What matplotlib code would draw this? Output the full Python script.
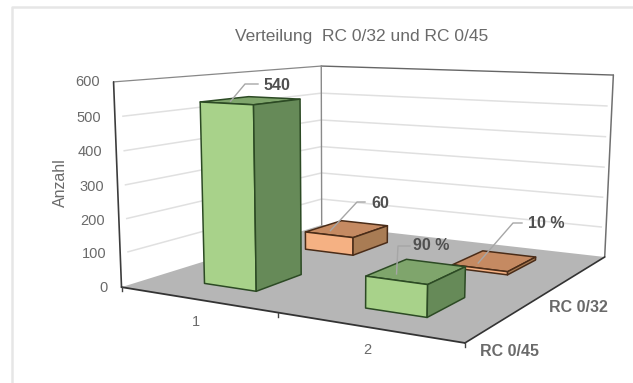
import numpy as np
import matplotlib
matplotlib.use("Agg")
import matplotlib.pyplot as plt
from matplotlib.patches import Polygon

plt.rcParams["font.family"] = ["Liberation Sans", "DejaVu Sans"]

# Chart content
title = "Verteilung  RC 0/32 und RC 0/45"
y_label = "Anzahl"
categories = ["1", "2"]
series_names = ["RC 0/45", "RC 0/32"]
values_rc045 = [540, 90]
values_rc032 = [60, 10]
labels_rc045 = ["540", "90 %"]
labels_rc032 = ["60", "10 %"]
y_ticks = [0, 100, 200, 300, 400, 500, 600]

# Colours per series: front, side, top, edge
green = ("#a8d28a", "#668a58", "#7fa56c", "#2c4a24")
orange = ("#f5b183", "#a97c54", "#c58a62", "#4a2c18")
TEXT = "#6a6a6a"
LABEL = "#505050"

# Perspective camera: (category, series depth, count) -> canvas position
world_ref = np.array([(0, 0, 0), (2, 0, 0), (2, 2, 0), (0, 2, 0),
                      (0, 0, 600), (0, 2, 600), (2, 2, 600)], float)
canvas_ref = np.array([(122, 287), (465, 343), (605, 257), (321, 225),
                       (113, 82), (322, 66), (613, 75)], float)
rows = []
for (X, Y, Z), (u, v) in zip(world_ref, canvas_ref):
    rows.append([X, Y, Z, 1, 0, 0, 0, 0, -u * X, -u * Y, -u * Z, -u])
    rows.append([0, 0, 0, 0, X, Y, Z, 1, -v * X, -v * Y, -v * Z, -v])
camera = np.linalg.svd(np.array(rows))[2][-1].reshape(3, 4)


def project(x, y, z):
    q = camera @ np.array([x, y, z, 1.0])
    return q[0] / q[2], q[1] / q[2]


fig = plt.figure(figsize=(6.33, 3.83), dpi=100)
ax = fig.add_axes([0, 0, 1, 1])
ax.set_xlim(0, 633)
ax.set_ylim(383, 0)
ax.axis("off")

# Outer chart frame
ax.plot([12, 12, 633], [383, 7, 7], color="#e6e6e6", lw=1.8, zorder=1)

# Walls and floor
left_wall = [project(0, 0, 0), project(0, 2, 0), project(0, 2, 600), project(0, 0, 600)]
back_wall = [project(0, 2, 0), project(2, 2, 0), project(2, 2, 600), project(0, 2, 600)]
floor = [project(0, 0, 0), project(2, 0, 0), project(2, 2, 0), project(0, 2, 0)]
ax.add_patch(Polygon(left_wall, fc="white", ec="none", zorder=2))
ax.add_patch(Polygon(back_wall, fc="white", ec="none", zorder=2))

# Gridlines on both walls
for tick in y_ticks[1:-1]:
    pts = [project(0, 0.06, tick), project(0, 2, tick), project(1.97, 2, tick)]
    ax.plot(*zip(*pts), color="#e0e0e0", lw=1.1, zorder=3)

ax.add_patch(Polygon(floor, fc="#b6b6b6", ec="none", zorder=4))


def line(points, color, lw, z=5):
    ax.plot(*zip(*[project(*p) for p in points]), color=color, lw=lw,
            zorder=z, solid_capstyle="round", solid_joinstyle="round")


# Wall outlines and axis lines
line([(0, 2, 600), (2, 2, 600)], "#666666", 1.0)
line([(0, 0, 600), (0, 2, 600)], "#888888", 0.9)
line([(0, 0, 0), (0, 0, 600)], "#3c3c3c", 1.2)
line([(0, 2, 0), (0, 2, 600)], "#8a8a8a", 1.0)
line([(2, 2, 0), (2, 2, 600)], "#707070", 1.1)
line([(0, 0, 0), (2, 0, 0)], "#333333", 1.3)
line([(2, 0, 0), (2, 2, 0)], "#333333", 1.2)

# Category ticks along the front edge
for x in range(3):
    u, v = project(x, 0, 0)
    ax.plot([u, u], [v, v + 4], color="#444444", lw=1.0, zorder=5)

# Bar footprint in data units
half_w = 0.17
half_d = 0.215


def draw_bar(cx, cy, value, colors, z):
    front, side, top, edge = colors
    x0, x1, y0, y1 = cx - half_w, cx + half_w, cy - half_d, cy + half_d
    faces = [
        ([(x0, y1, value), (x1, y1, value), (x1, y0, value), (x0, y0, value)], top),
        ([(x0, y0, 0), (x1, y0, 0), (x1, y0, value), (x0, y0, value)], front),
        ([(x1, y0, 0), (x1, y1, 0), (x1, y1, value), (x1, y0, value)], side),
    ]
    for corners, color in faces:
        ax.add_patch(Polygon([project(*c) for c in corners], closed=True, fc=color,
                             ec=edge, lw=1.1, joinstyle="round", zorder=z))


# Bars, furthest row first so nearer ones overlap it
for i, value in enumerate(values_rc032):
    draw_bar(i + 0.5, 1.5, value, orange, 6 + i)
for i, value in enumerate(values_rc045):
    draw_bar(i + 0.5, 0.5, value, green, 8 + i)


def leader(cx, cy, value, knee, end, text, text_xy):
    # Callout starts slightly towards the front-left of the bar's top face
    start = project(cx - 0.06, cy - 0.1, value)
    ax.plot([start[0], knee[0], end[0]], [start[1], knee[1], end[1]],
            color="#a6a6a6", lw=1.0, zorder=11)
    ax.text(*text_xy, text, fontsize=11.5, fontweight="bold", color=LABEL,
            ha="center", va="center", zorder=12)


leader(0.5, 0.5, values_rc045[0], (245, 84), (258, 84), labels_rc045[0], (277, 85))
leader(0.5, 1.5, values_rc032[0], (357, 202), (365, 202), labels_rc032[0], (380, 203))
leader(1.5, 0.5, values_rc045[1], (398, 246), (410, 246), labels_rc045[1], (431, 245))
leader(1.5, 1.5, values_rc032[1], (513, 223), (522, 223), labels_rc032[1], (546, 224))

# Count axis tick labels
for tick in y_ticks:
    u, v = project(0, 0, tick)
    ax.text(u - 14, v + 0.5, str(tick), fontsize=10.5, color=TEXT, ha="right", va="center")

ax.text(60, 183, y_label, fontsize=11.5, color=TEXT, rotation=90, ha="center", va="center")
ax.text(362, 37, title, fontsize=12.5, color=TEXT, ha="center", va="center")

# Category and series labels
for i, name in enumerate(categories):
    u, v = project(i + 0.5, 0, 0)
    ax.text(u, v + 23, name, fontsize=10.5, color=TEXT, ha="center", va="center")
ax.text(509, 351, series_names[0], fontsize=11.5, fontweight="bold", color=TEXT,
        ha="center", va="center")
ax.text(578, 308, series_names[1], fontsize=11.5, fontweight="bold", color=TEXT,
        ha="center", va="center")

fig.savefig("out.png", dpi=100, facecolor="white")
